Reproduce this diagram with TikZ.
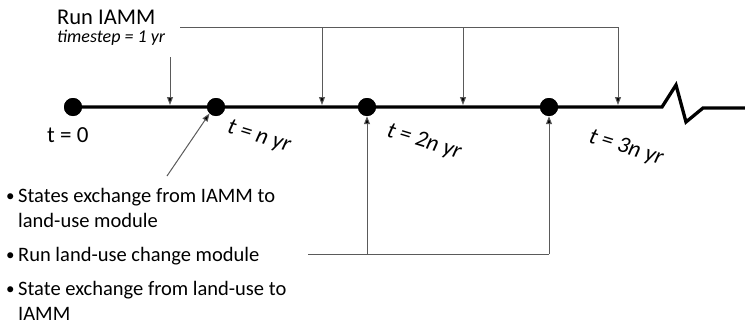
\documentclass[tikz,border=0pt]{standalone}
\usepackage{fontspec}
\setmainfont{Carlito}
\usetikzlibrary{arrows.meta}
\definecolor{conn}{HTML}{5A5A5A}
\tikzset{
  dotnode/.style={circle,fill=black,inner sep=0pt,minimum size=18pt},
  mainline/.style={line width=3.3pt,black},
  connline/.style={line width=1pt,conn},
  arr/.style={connline,-{Triangle[length=8pt,width=6pt,fill=black]}},
  bul/.style={anchor=base west,inner sep=0pt,font=\fontsize{20.5}{25}\selectfont},
  bdot/.style={anchor=base west,inner sep=0pt,font=\fontsize{17}{20}\selectfont},
  tlab/.style={inner sep=0pt,rotate=-17,font=\fontsize{23}{27}\selectfont\itshape},
}
\begin{document}
\begin{tikzpicture}[x=1pt,y=-1pt]
\useasboundingbox (0,0) rectangle (745,324);
% timeline
\coordinate (zs) at (662,107);
\coordinate (z1) at (676,85);
\coordinate (z2) at (686,122);
\coordinate (z3) at (703,108);
\coordinate (ze) at (745,108);
\node[dotnode] (d0) at (73,107) {};
\node[dotnode] (d1) at (216,107) {};
\node[dotnode] (d2) at (367,107) {};
\node[dotnode] (d3) at (549,107) {};
\draw[mainline,line join=miter] (d0.center) -- (zs) -- (z1) -- (z2) -- (z3) -- (ze);
\node[dotnode] at (d0) {};
\node[dotnode] at (d1) {};
\node[dotnode] at (d2) {};
\node[dotnode] at (d3) {};
% labels
\node[anchor=base west,inner sep=0pt,font=\fontsize{22.5}{26}\selectfont] (run) at (57,24) {Run IAMM};
\node[anchor=base west,inner sep=0pt,font=\fontsize{18}{21}\selectfont\itshape] (ts) at (57,42) {timestep = 1 yr};
\node[anchor=base west,inner sep=0pt,font=\fontsize{23}{27}\selectfont] (t0) at (47,142) {t = 0};
\node[tlab] (t1) at (259,137) {t = n yr};
\node[tlab] (t2) at (424,142) {t = 2n yr};
\node[tlab] (t3) at (626,148) {t = 3n yr};
% top arrows
\coordinate (a0) at (170,57);
\coordinate (a0e) at (170,105);
\draw[arr] (a0) -- (a0e);
\coordinate (tl) at (180,27);
\coordinate (tm1) at (322,27);
\coordinate (tm2) at (463,27);
\coordinate (tr) at (618,27);
\coordinate (tm1e) at (322,105);
\coordinate (tm2e) at (463,105);
\coordinate (tre) at (618,105);
\draw[connline] (tl) -- (tr);
\draw[arr] (tm1) -- (tm1e);
\draw[arr] (tm2) -- (tm2e);
\draw[arr] (tr) -- (tre);
% bottom arrows
\coordinate (bl) at (308,254);
\coordinate (bm) at (367,254);
\coordinate (br) at (549,254);
\draw[connline] (bl) -- (br);
\draw[arr] (bm) -- (d2.south);
\draw[arr] (br) -- (d3.south);
\coordinate (ds) at (167,176);
\draw[arr] (ds) -- (d1.south west);
% bullets
\node[bdot] (b1) at (6,201) {•};
\node[bul] (s1) at (18,202) {States exchange from IAMM to};
\node[bul] (s1b) at (18,227) {land-use module};
\node[bdot] (b2) at (6,260) {•};
\node[bul] (s2) at (18,261) {Run land-use change module};
\node[bdot] (b3) at (6,294) {•};
\node[bul] (s3) at (18,295) {State exchange from land-use to};
\node[bul] (s3b) at (18,320) {IAMM};
\end{tikzpicture}
\end{document}
